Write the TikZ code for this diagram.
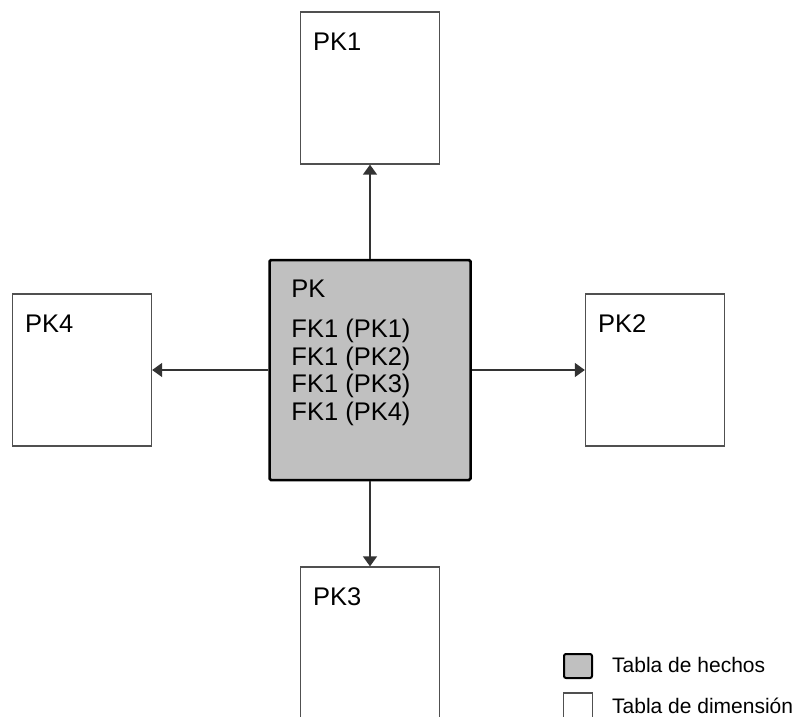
\documentclass[tikz,border=0pt]{standalone}
\usepackage{fontspec}
\setmainfont{Liberation Sans}
\usetikzlibrary{positioning,arrows.meta,calc}
\definecolor{hechogray}{HTML}{C0C0C0}
\definecolor{dimline}{HTML}{505050}

\begin{document}
\begin{tikzpicture}[x=1pt,y=-1pt,
    dimbox/.style={draw=dimline, line width=1.3pt, fill=white, minimum width=139pt, minimum height=152pt, inner sep=0pt},
    hechobox/.style={draw=black, line width=2.5pt, fill=hechogray, rounded corners=1.5pt, minimum width=201pt, minimum height=220pt, inner sep=0pt},
    boxtext/.style={anchor=base west, inner sep=0pt, font=\fontsize{25.5}{27.7}\selectfont},
    leytext/.style={anchor=base west, inner sep=0pt, font=\fontsize{21}{24}\selectfont},
    fkarrow/.style={-{Triangle[width=14pt,length=10pt]}, line width=1.4pt, draw=black!80}]
        \useasboundingbox (0,0) rectangle (801,716);
        \clip (0,0) rectangle (801,716);

        % Tabla de hechos
        \node[hechobox] (hecho) at (370,370) {};
        \node[boxtext] (pk) at ($(hecho.north west)+(23,39)$) {PK};
        \foreach \i/\dy in {1/79,2/107,3/134,4/162} {
            \node[boxtext] (fk\i) at ($(hecho.north west)+(23,\dy)$) {FK1 (PK\i)};
        }

        % Tablas de dimension
        \node[dimbox] (pk1) at (370,88) {};
        \node[dimbox] (pk2) at (655,370) {};
        \node[dimbox] (pk3) at (370,643) {};
        \node[dimbox] (pk4) at (82,370) {};
        \foreach \i in {1,...,4} {
            \node[boxtext] (lbl\i) at ($(pk\i.north west)+(13,39)$) {PK\i};
        }

        % Arrows
        \draw[fkarrow] (hecho.north) -- (pk1.south);
        \draw[fkarrow] (hecho.east) -- (pk2.west);
        \draw[fkarrow] (hecho.south) -- (pk3.north);
        \draw[fkarrow] (hecho.west) -- (pk4.east);

        % Legend
        \node[hechobox, minimum width=28pt, minimum height=24pt, line width=2pt, rounded corners=2pt] (leyhecho) at (578,666) {};
        \node[dimbox, minimum width=29pt, minimum height=26pt] (leydim) at (578,706) {};
        \node[leytext] (leyhechotxt) at (612,672) {Tabla de hechos};
        \node[leytext] (leydimtxt) at (612,713) {Tabla de dimensión};
    \end{tikzpicture}
\end{document}
